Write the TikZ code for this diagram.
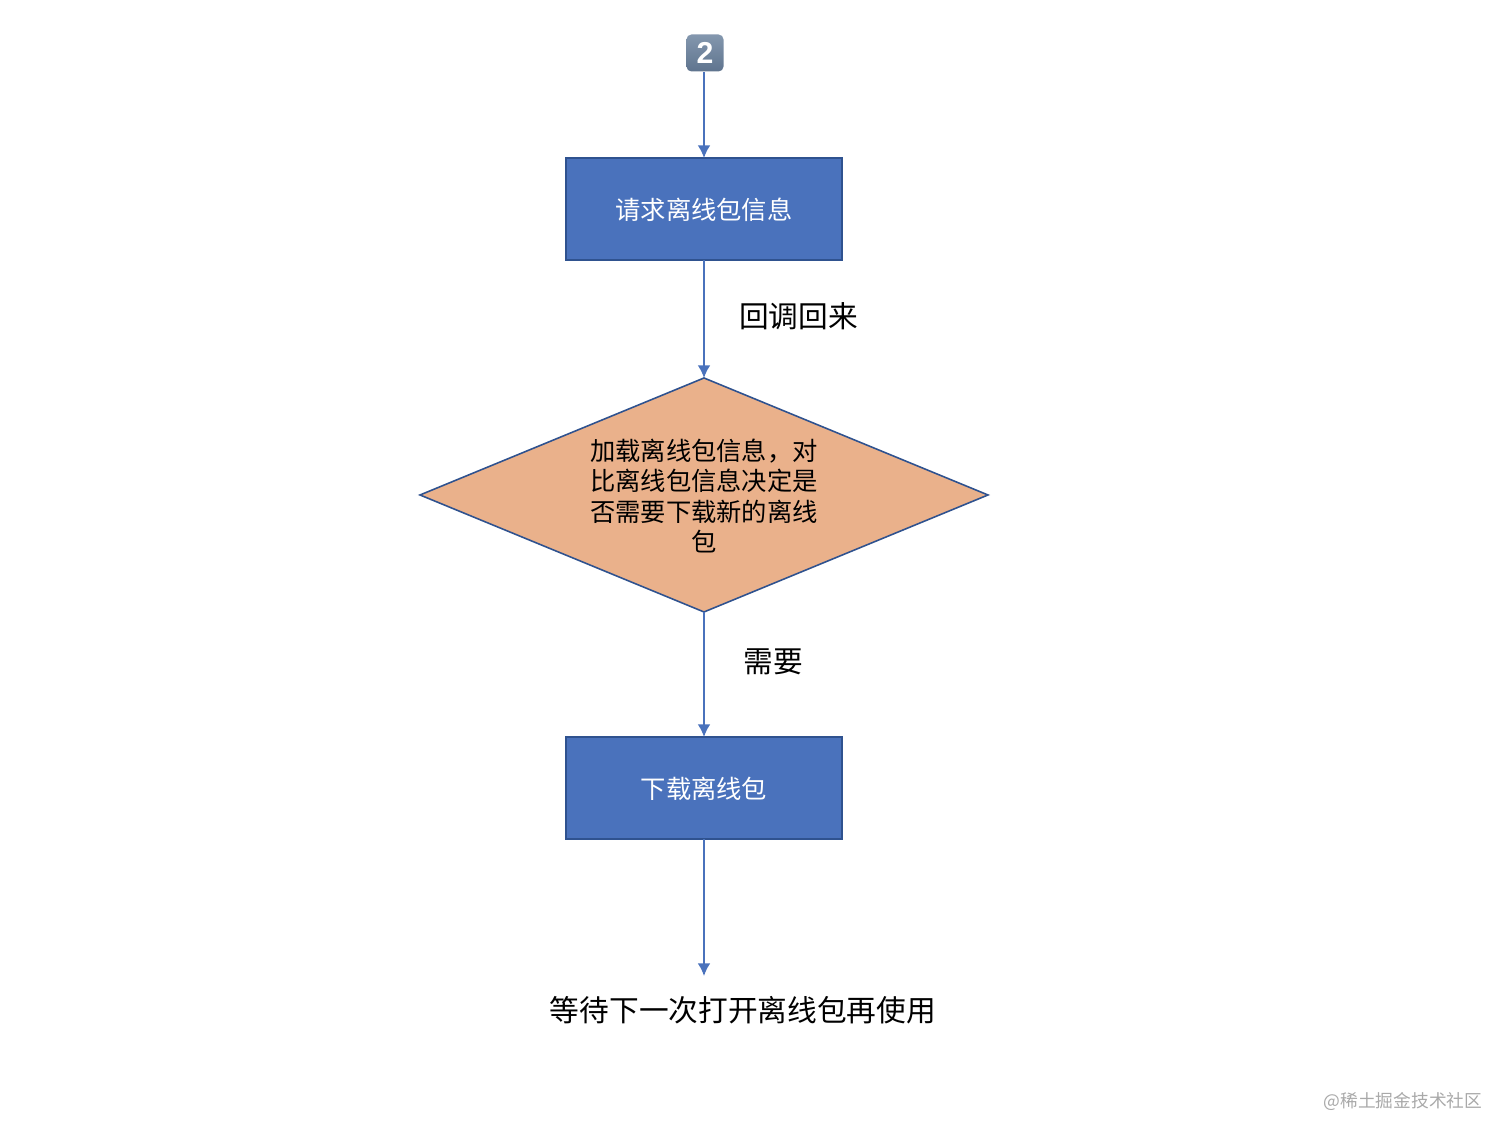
\documentclass[tikz,border=0pt]{standalone}
\usepackage{fontspec}
\newfontfamily\cjk{Noto Sans CJK SC}
\setsansfont{Liberation Sans}
\usetikzlibrary{arrows.meta, shapes.geometric}
\definecolor{flowBlue}{HTML}{4A72BC}
\definecolor{flowEdge}{HTML}{2F528F}
\definecolor{flowOrange}{HTML}{EAB18B}
\definecolor{markGray}{HTML}{A9A9A9}
\definecolor{keyTop}{HTML}{8497AE}
\definecolor{keyBottom}{HTML}{5F748E}
\tikzset{
    flowBox/.style = {draw = flowEdge, fill = flowBlue, line width = 0.45pt,
        minimum width = 2.76cm, minimum height = 1.02cm, inner sep = 0pt, outer sep = 0pt},
    flowDiamond/.style = {diamond, draw = flowEdge, fill = flowOrange, line width = 0.45pt,
        aspect = 2.43, minimum width = 5.68cm, minimum height = 2.34cm, inner sep = 0pt,
        outer sep = 0pt},
    flowText/.style = {inner sep = 0pt, align = center, font = \cjk\fontsize{7.2}{8.68}\selectfont},
    flowLabel/.style = {inner sep = 0pt, font = \cjk\fontsize{8.45}{10}\selectfont},
    flowArrow/.style = {draw = flowBlue, line width = 0.4pt, -{Latex[length = 0.125cm, width = 0.125cm]}}
}
\begin{document}
\begin{tikzpicture}
    \useasboundingbox (0, 0) rectangle (15.12, 11.41);
    % Keycap
    \node [draw = none, rounded corners = 1.4pt, minimum size = 0.37cm, inner sep = 0pt,
        top color = keyTop, bottom color = keyBottom,
        text = white, font = \sffamily\bfseries\fontsize{8.6}{10}\selectfont]
        (badge) at (7.05, 10.88) {2};
    % Boxes
    \node [flowBox] (infoBox) at (7.04, 9.32) {};
    \node [flowDiamond] (checkDiamond) at (7.04, 6.46) {};
    \node [flowBox] (loadBox) at (7.04, 3.53) {};
    \coordinate (waitPoint) at (7.04, 1.65);
    % Box texts
    \node [flowText, text = white] (infoText) at (7.04, 9.315) {请求离线包信息};
    \node [flowText] (checkText) at (7.04, 6.45)
        {加载离线包信息，对\\比离线包信息决定是\\否需要下载新的离线\\包};
    \node [flowText, text = white] (loadText) at (7.04, 3.525) {下载离线包};
    % Arrows
    \draw [flowArrow] (badge.south -| infoBox.north) -- (infoBox.north);
    \draw [flowArrow] (infoBox.south) -- (checkDiamond.north);
    \draw [flowArrow] (checkDiamond.south) -- (loadBox.north);
    \draw [flowArrow] (loadBox.south) -- (waitPoint);
    % Labels
    \node [flowLabel] (backLabel) at (7.985, 8.25) {回调回来};
    \node [flowLabel] (needLabel) at (7.73, 4.79) {需要};
    \node [flowLabel] (waitLabel) at (7.43, 1.31) {等待下一次打开离线包再使用};
    % Watermark
    \node [anchor = east, inner sep = 0pt, text = markGray, font = \cjk\fontsize{5.05}{6}\selectfont]
        (markLabel) at (14.83, 0.39) {@稀土掘金技术社区};
\end{tikzpicture}
\end{document}
